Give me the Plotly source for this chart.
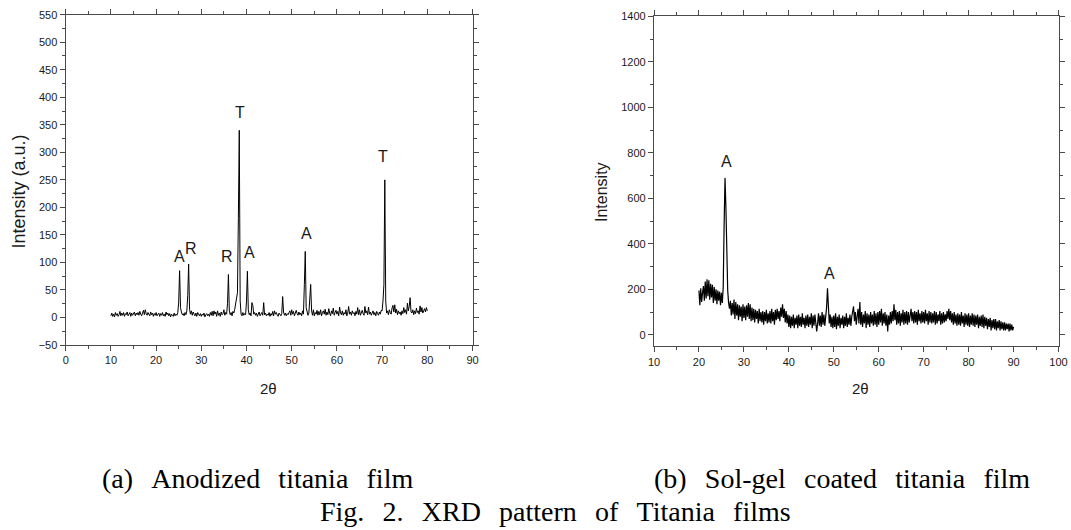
import plotly.graph_objects as go

# ---------------- data ----------------
# (a) Anodized titania film: 2-theta from 10 to 80, step 0.2
a_start, a_step = 10.0, 0.2
a_intensity = [
    3, 8, 2, 6, 1, 9, 4, 7, 2, 5,
    11, 3, 8, 4, 9, 2, 7, 5, 10, 3,
    6, 9, 2, 8, 4, 7, 10, 3, 8, 5,
    9, 4, 11, 6, 3, 8, 13, 5, 14, 7,
    4, 9, 6, 3, 10, 5, 8, 2, 7, 4,
    9, 3, 6, 8, 2, 7, 4, 9, 3, 6,
    2, 10, 5, 8, 3, 7, 1, 6, 4, 2,
    8, 3, 6, 4, 9, 28, 85, 18, 10, 5,
    7, 3, 9, 5, 12, 40, 97, 15, 6, 12,
    4, 10, 6, 3, 8, 2, 9, 5, 3, 7,
    2, 6, 4, 8, 1, 5, 7, 3, 6, 2,
    9, 4, 11, 3, 12, 6, 10, 2, 12, 4,
    8, 2, 10, 5, 7, 14, 4, 9, 6, 25,
    78, 12, 5, 9, 3, 11, 8, 15, 26, 28,
    45, 180, 340, 30, 6, 3, 9, 4, 7, 5,
    30, 84, 14, 5, 8, 3, 27, 22, 6, 9,
    4, 8, 2, 6, 10, 3, 5, 9, 4, 27,
    5, 8, 3, 6, 4, 9, 2, 7, 4, 11,
    3, 12, 6, 9, 4, 2, 8, 5, 3, 7,
    38, 10, 4, 8, 3, 7, 5, 9, 12, 4,
    14, 6, 11, 3, 9, 13, 7, 4, 10, 5,
    8, 3, 12, 6, 60, 120, 18, 9, 4, 8,
    30, 60, 12, 4, 14, 3, 9, 6, 13, 4,
    11, 5, 14, 3, 9, 12, 6, 15, 4, 10,
    5, 16, 8, 3, 12, 7, 17, 4, 9, 13,
    6, 11, 3, 19, 8, 5, 12, 4, 9, 6,
    14, 3, 8, 20, 6, 10, 4, 12, 7, 9,
    3, 11, 6, 18, 5, 14, 4, 9, 13, 7,
    4, 20, 8, 12, 5, 19, 6, 10, 4, 8,
    12, 5, 9, 3, 11, 7, 4, 10, 6, 13,
    12, 30, 60, 250, 30, 8, 12, 5, 14, 9,
    6, 17, 22, 10, 23, 8, 15, 5, 12, 7,
    10, 4, 12, 7, 18, 9, 14, 6, 26, 12,
    20, 36, 10, 8, 14, 5, 12, 7, 17, 9,
    12, 6, 21, 10, 18, 8, 14, 16, 10, 18,
    12,
]
a_labels = ["A", "R", "R", "T", "A", "A", "T"]
a_label_x = [25.1, 27.7, 35.7, 38.5, 40.7, 53.3, 70.3]
a_label_y = [110, 125, 110, 372, 118, 152, 292]

# (b) Sol-gel coated titania film: 2-theta from 20 to 90, step 0.2
b_start, b_step = 20.0, 0.2
b_intensity = [
    195, 130, 205, 145, 185, 215, 150, 235, 160, 245,
    170, 240, 155, 225, 165, 220, 140, 210, 150, 200,
    135, 195, 150, 190, 130, 185, 140, 210, 480, 690,
    560, 300, 195, 140, 115, 150, 85, 140, 90, 155,
    70, 145, 85, 135, 65, 130, 80, 125, 60, 135,
    75, 125, 65, 130, 80, 140, 70, 135, 60, 120,
    65, 115, 55, 110, 70, 105, 50, 115, 60, 100,
    55, 105, 45, 100, 60, 110, 50, 95, 55, 105,
    50, 115, 60, 100, 45, 110, 65, 115, 70, 105,
    60, 120, 80, 135, 75, 115, 55, 105, 50, 90,
    35, 85, 30, 80, 40, 90, 30, 75, 45, 85,
    30, 90, 40, 80, 35, 95, 45, 75, 30, 85,
    40, 90, 35, 80, 45, 95, 30, 85, 40, 90,
    35, 15, 50, 95, 40, 85, 35, 100, 45, 90,
    40, 85, 120, 205, 110, 50, 90, 35, 80, 30,
    85, 35, 95, 25, 80, 40, 90, 30, 75, 45,
    85, 30, 80, 40, 95, 35, 75, 45, 90, 40,
    80, 105, 125, 60, 100, 45, 90, 115, 50, 145,
    45, 100, 35, 90, 50, 105, 30, 95, 45, 90,
    35, 100, 50, 90, 40, 105, 45, 95, 35, 100,
    45, 105, 55, 115, 40, 95, 50, 100, 40, 90,
    15, 85, 45, 100, 50, 105, 60, 135, 65, 110,
    45, 100, 50, 105, 40, 95, 55, 110, 45, 100,
    50, 105, 45, 100, 55, 95, 115, 60, 100, 50,
    105, 55, 100, 45, 110, 60, 95, 50, 105, 55,
    100, 50, 110, 60, 95, 45, 105, 55, 100, 50,
    95, 55, 105, 45, 100, 50, 90, 60, 105, 45,
    95, 50, 100, 55, 90, 60, 105, 70, 115, 65,
    105, 55, 95, 45, 100, 50, 90, 40, 95, 45,
    90, 40, 100, 50, 85, 35, 95, 45, 90, 40,
    95, 35, 85, 45, 95, 40, 90, 35, 85, 45,
    90, 30, 80, 40, 85, 35, 90, 30, 80, 40,
    75, 25, 70, 35, 75, 20, 65, 30, 70, 25,
    70, 20, 60, 30, 65, 20, 60, 25, 55, 20,
    55, 20, 50, 25, 50, 15, 50, 20, 45, 20,
    35,
]
b_labels = ["A", "A"]
b_label_x = [26.1, 49.1]
b_label_y = [760, 270]

a_x = [round(a_start + i * a_step, 2) for i in range(len(a_intensity))]
b_x = [round(b_start + i * b_step, 2) for i in range(len(b_intensity))]

caption_a = "(a) Anodized titania film"
caption_b = "(b) Sol-gel coated titania film"
caption_fig = "Fig. 2. XRD pattern of Titania films"

# ---------------- figure ----------------
W, H = 1071, 530
SANS = "Arial, Liberation Sans, sans-serif"
SERIF = "Times New Roman, Liberation Serif, serif"
AXC = "#4a4a4a"
TXT = "#1a1a1a"

def px_x(p):
    return p / W

def px_y(p):
    return (H - p) / H

fig = go.Figure()
fig.add_trace(go.Scatter(x=a_x, y=a_intensity, mode="lines",
                         line=dict(color="black", width=1), xaxis="x", yaxis="y",
                         showlegend=False, hoverinfo="skip"))
fig.add_trace(go.Scatter(x=b_x, y=b_intensity, mode="lines",
                         line=dict(color="black", width=1.2), xaxis="x2", yaxis="y2",
                         showlegend=False, hoverinfo="skip"))

common = dict(showline=True, linecolor=AXC, linewidth=1.3, mirror="ticks",
              ticks="outside", ticklen=5, tickwidth=1, tickcolor=AXC,
              showgrid=False, zeroline=False, automargin=False,
              tickfont=dict(family=SANS, size=11, color=TXT))

fig.update_layout(
    width=W, height=H, margin=dict(l=0, r=0, t=0, b=0, pad=0),
    paper_bgcolor="white", plot_bgcolor="white",
    xaxis=dict(domain=[px_x(65.7), px_x(472.5)], range=[0, 90], dtick=10,
               anchor="y", minor=dict(dtick=5, ticks="outside", ticklen=3,
                                       tickcolor=AXC), **common),
    yaxis=dict(domain=[px_y(345), px_y(14.7)], range=[-50, 550], dtick=50,
               anchor="x", minor=dict(dtick=25, ticks="outside", ticklen=3,
                                       tickcolor=AXC), **common),
    xaxis2=dict(domain=[px_x(654), px_x(1058.5)], range=[10, 100], dtick=10,
                anchor="y2", minor=dict(dtick=5, ticks="outside", ticklen=3,
                                        tickcolor=AXC), **common),
    yaxis2=dict(domain=[px_y(346.3), px_y(16.3)], range=[-50, 1400], dtick=200,
                anchor="x2", minor=dict(dtick=100, ticks="outside", ticklen=3,
                                        tickcolor=AXC), **common),
)

ann = []
for t, x, y in zip(a_labels, a_label_x, a_label_y):
    ann.append(dict(text=t, x=x, y=y, xref="x", yref="y", showarrow=False,
                    xanchor="center", yanchor="middle",
                    font=dict(family=SANS, size=16, color=TXT)))
for t, x, y in zip(b_labels, b_label_x, b_label_y):
    ann.append(dict(text=t, x=x, y=y, xref="x2", yref="y2", showarrow=False,
                    xanchor="center", yanchor="middle",
                    font=dict(family=SANS, size=16, color=TXT)))

def paper_text(text, xp, yp, size, family, angle=0, color=TXT):
    return dict(text=text, x=px_x(xp), y=px_y(yp), xref="paper", yref="paper",
                showarrow=False, textangle=angle, xanchor="center",
                yanchor="middle", font=dict(family=family, size=size, color=color))

# axis titles
ann.append(paper_text("Intensity (a.u.)", 18.5, 192, 18, SANS, -90))
ann.append(paper_text("Intensity", 601, 192, 16, SANS, -90))
ann.append(paper_text("2θ", 268, 388, 15, SANS))
ann.append(paper_text("2θ", 860, 388, 15, SANS))

# captions (wide word spacing as in the original)
gap = " \u2009\u2009"
def spaced(s):
    return gap.join(s.split(" "))

ann.append(paper_text(spaced(caption_a), 257, 478, 28, SERIF, color="black"))
ann.append(paper_text(spaced(caption_b), 842, 478, 28, SERIF, color="black"))
ann.append(paper_text(spaced(caption_fig), 555, 511, 28, SERIF, color="black"))

fig.update_layout(annotations=ann)
fig.write_html("out.html", config={"displayModeBar": False},
               post_script="document.body.style.margin='0';")
